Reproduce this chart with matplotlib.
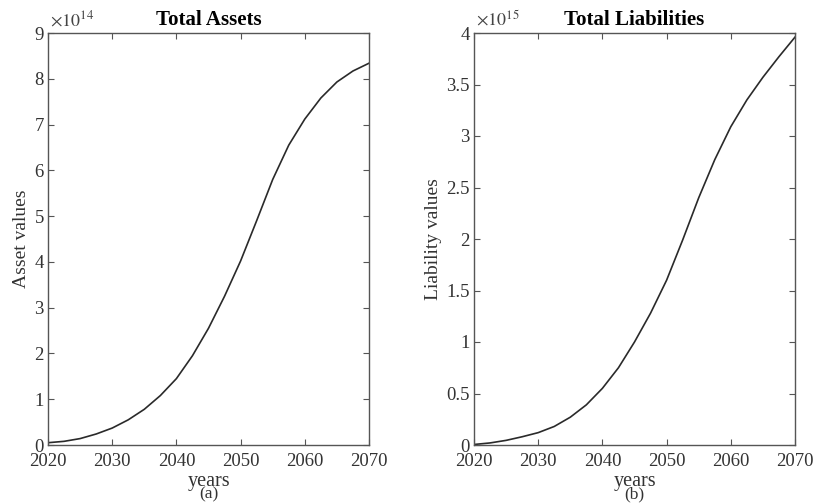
import matplotlib
matplotlib.use("Agg")
import matplotlib.pyplot as plt
from matplotlib.ticker import FuncFormatter

plt.rcParams["font.family"] = "Liberation Serif"
plt.rcParams["mathtext.fontset"] = "stix"

# values
years = [2020, 2022.5, 2025, 2027.5, 2030, 2032.5, 2035, 2037.5, 2040, 2042.5, 2045,
         2047.5, 2050, 2052.5, 2055, 2057.5, 2060, 2062.5, 2065, 2067.5, 2070]
assets = [0.05, 0.08, 0.14, 0.24, 0.37, 0.55, 0.78, 1.08, 1.45, 1.95, 2.55,
          3.25, 4.02, 4.9, 5.8, 6.55, 7.12, 7.58, 7.93, 8.17, 8.34]  # x 1e14
liabilities = [0.005, 0.02, 0.045, 0.08, 0.12, 0.18, 0.27, 0.39, 0.55, 0.75, 1.0,
               1.28, 1.6, 1.99, 2.4, 2.77, 3.09, 3.35, 3.57, 3.77, 3.96]  # x 1e15

fig = plt.figure(figsize=(8.16, 5.03), dpi=100)
ax1 = fig.add_axes([48 / 816, 58 / 503, 321 / 816, 412 / 503])
ax2 = fig.add_axes([474 / 816, 58 / 503, 321 / 816, 412 / 503])

edge = "#555555"
txt = "#333333"
for ax, y, ttl, ylab, top, step, expo, sub in [
        (ax1, assets, "Total Assets", "Asset values", 9, 1, 14, "(a)"),
        (ax2, liabilities, "Total Liabilities", "Liability values", 4, 0.5, 15, "(b)")]:
    ax.plot(years, y, color="#2a2a2a", lw=1.2)
    ax.set_xlim(2020, 2070)
    ax.set_ylim(0, top)
    ax.set_xticks(range(2020, 2071, 10))
    ax.set_yticks([i * step for i in range(int(round(top / step)) + 1)])
    ax.yaxis.set_major_formatter(FuncFormatter(lambda v, p: "%g" % v))
    ax.tick_params(direction="in", top=True, right=True, length=4, width=0.8,
                   labelsize=13.5, colors=txt, color=edge)
    ax.tick_params(axis="x", pad=6)
    ax.tick_params(axis="y", pad=3)
    for s in ax.spines.values():
        s.set_color(edge)
        s.set_linewidth(1.0)
    ax.text(0.005, 1.008, r"$\times10^{%d}$" % expo, transform=ax.transAxes,
            ha="left", va="bottom", fontsize=13, color="#444444")
    ax.set_title(ttl, fontsize=15, fontweight="bold", pad=6)
    ax.set_ylabel(ylab, fontsize=14, color=txt, labelpad=3)
    ax.set_xlabel("years", fontsize=14.5, color=txt, labelpad=1)
    ax.text(0.5, -0.1, sub, transform=ax.transAxes, ha="center", va="top",
            fontsize=12.5, color=txt)

fig.savefig("out.png", dpi=100)
